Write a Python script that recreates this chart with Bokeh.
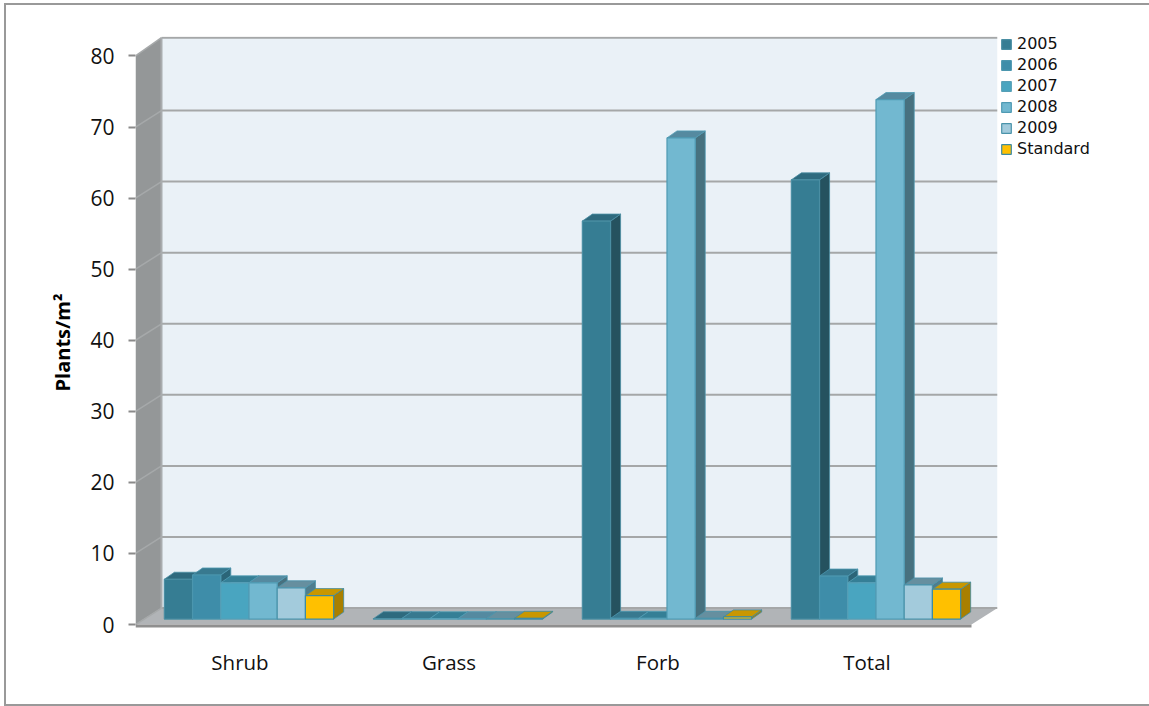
from bokeh.plotting import figure
from bokeh.models import (ColumnDataSource, FixedTicker, Legend, LegendItem, Title, Range1d)
from bokeh.embed import file_html
from bokeh.resources import INLINE

categories = ["Shrub", "Grass", "Forb", "Total"]
series_names = ["2005", "2006", "2007", "2008", "2009", "Standard"]
v2005 = [5.6, 0.05, 56.0, 61.8]
v2006 = [6.2, 0.05, 0.1, 6.05]
v2007 = [5.1, 0.05, 0.1, 5.1]
v2008 = [5.1, 0.05, 67.7, 73.1]
v2009 = [4.4, 0.05, 0.1, 4.8]
vstd = [3.3, 0.1, 0.3, 4.2]
y_ticks = [0, 10, 20, 30, 40, 50, 60, 70, 80]

series = [v2005, v2006, v2007, v2008, v2009, vstd]
front = ["#367d93", "#3e8da9", "#49a5c0", "#72b8d0", "#a3cbdc", "#ffc000"]
topc = ["#2e6a7e", "#38798f", "#357f96", "#558aa0", "#668f9f", "#c99700"]
side = ["#25525f", "#2b6578", "#2f7489", "#47717f", "#4f7d8d", "#a97f00"]
edge = ["#4a8ea3", "#4b96ae", "#569fb6", "#4f9ab3", "#4a93aa", "#3d8ba3"]

FONT = "Open Sans"
WALL_DX, WALL_DY, WALL_TOP_DY = 0.1244, 2.32, 2.57   # depth of the chart box
BAR_DX, BAR_DY = 0.048, 0.985        # depth of one bar
BAR_W, BAR_START, BAR_BASE = 0.135, 0.138, 0.77

p = figure(frame_width=862, frame_height=592, output_backend="svg", toolbar_location=None,
           x_range=Range1d(0, 4.1244), y_range=Range1d(-0.56, 82.74),
           min_border_left=129, min_border_right=152, min_border_top=31, min_border_bottom=76,
           outline_line_color=None, border_fill_color="white", background_fill_color="white",
           styles={"margin": "3px 0 0 4px", "border-top": "2px solid #999999",
                   "border-left": "2px solid #999999", "border-bottom": "2px solid #999999"})
p.grid.visible = False

# walls
n = len(categories)
top_v = y_ticks[-1]
wall_levels = [t + WALL_DY for t in y_ticks[:-1]] + [top_v + WALL_TOP_DY]
p.patch([0, 0, WALL_DX, WALL_DX], [0, top_v, top_v + WALL_TOP_DY, WALL_DY], fill_color="#949798", line_color=None)
p.patch([0, n, n + WALL_DX, WALL_DX], [0, 0, WALL_DY, WALL_DY], fill_color="#b1b4b7", line_color=None)
p.quad(left=WALL_DX, right=n + WALL_DX, bottom=WALL_DY, top=top_v + WALL_TOP_DY, fill_color="#eaf1f7", line_color=None)
p.segment(x0=[WALL_DX] * len(y_ticks), x1=[n + WALL_DX] * len(y_ticks),
          y0=wall_levels, y1=wall_levels, line_color="#a5a7a8", line_width=2)
p.segment(x0=[0] * len(y_ticks), x1=[WALL_DX] * len(y_ticks), y0=y_ticks,
          y1=wall_levels, line_color="#a6a9aa", line_width=1.5)
p.line([WALL_DX, WALL_DX], [WALL_DY, top_v + WALL_TOP_DY], line_color="#a9acae", line_width=2)
p.line([0, n], [-0.2, -0.2], line_color="#8f8f8f", line_width=3)

# bars
items = []
for s, (name, vals) in enumerate(zip(series_names, series)):
    x0 = [i + BAR_START + s * BAR_W for i in range(n)]
    x1 = [x + BAR_W for x in x0]
    tops = [BAR_BASE + v for v in vals]
    sx = [[b, b, b + BAR_DX, b + BAR_DX] for b in x1]
    sy = [[BAR_BASE, t, t + BAR_DY, BAR_BASE + BAR_DY] for t in tops]
    tx = [[a, b, b + BAR_DX, a + BAR_DX] for a, b in zip(x0, x1)]
    ty = [[t, t, t + BAR_DY, t + BAR_DY] for t in tops]
    p.patches(sx, sy, fill_color=side[s], line_color=edge[s], line_width=0.8)
    p.patches(tx, ty, fill_color=topc[s], line_color=edge[s], line_width=0.8)
    src = ColumnDataSource(dict(left=x0, right=x1, top=tops, bottom=[BAR_BASE] * n))
    r = p.quad(left="left", right="right", top="top", bottom="bottom", source=src,
               fill_color=front[s], line_color=edge[s], line_width=1.2)
    items.append(LegendItem(label=name, renderers=[r]))

# axes
ya = p.yaxis[0]
ya.ticker = FixedTicker(ticks=y_ticks)
ya.axis_line_color = None
ya.major_tick_in = 0
ya.major_tick_out = 7
ya.major_tick_line_color = "#8a8a8a"
ya.major_tick_line_width = 2
ya.minor_tick_line_color = None
ya.major_label_text_font = FONT
ya.major_label_text_font_size = "21px"
ya.major_label_text_color = "#111111"
ya.major_label_standoff = 14

xa = p.xaxis[0]
xa.ticker = FixedTicker(ticks=[i + 0.5 for i in range(n)])
xa.major_label_overrides = {i + 0.5: c for i, c in enumerate(categories)}
xa.axis_line_color = None
xa.major_tick_line_color = None
xa.minor_tick_line_color = None
xa.major_label_text_font = FONT
xa.major_label_text_font_size = "20.5px"
xa.major_label_text_color = "#111111"
xa.major_label_standoff = 13

p.add_layout(Title(text="Plants/m²", align="left", offset=237, standoff=24,
                   text_font=FONT, text_font_style="bold", text_font_size="20px",
                   text_color="#000000"), "left")

legend = Legend(items=items, location=(3, 470), margin=0, padding=3, spacing=2,
                glyph_width=12, glyph_height=12, label_height=12, label_standoff=5,
                label_text_font="DejaVu Sans", label_text_font_size="16px", label_text_color="#111111",
                border_line_color=None, background_fill_alpha=0)
p.add_layout(legend, "right")

open("out.html", "w").write(file_html(p, INLINE))
